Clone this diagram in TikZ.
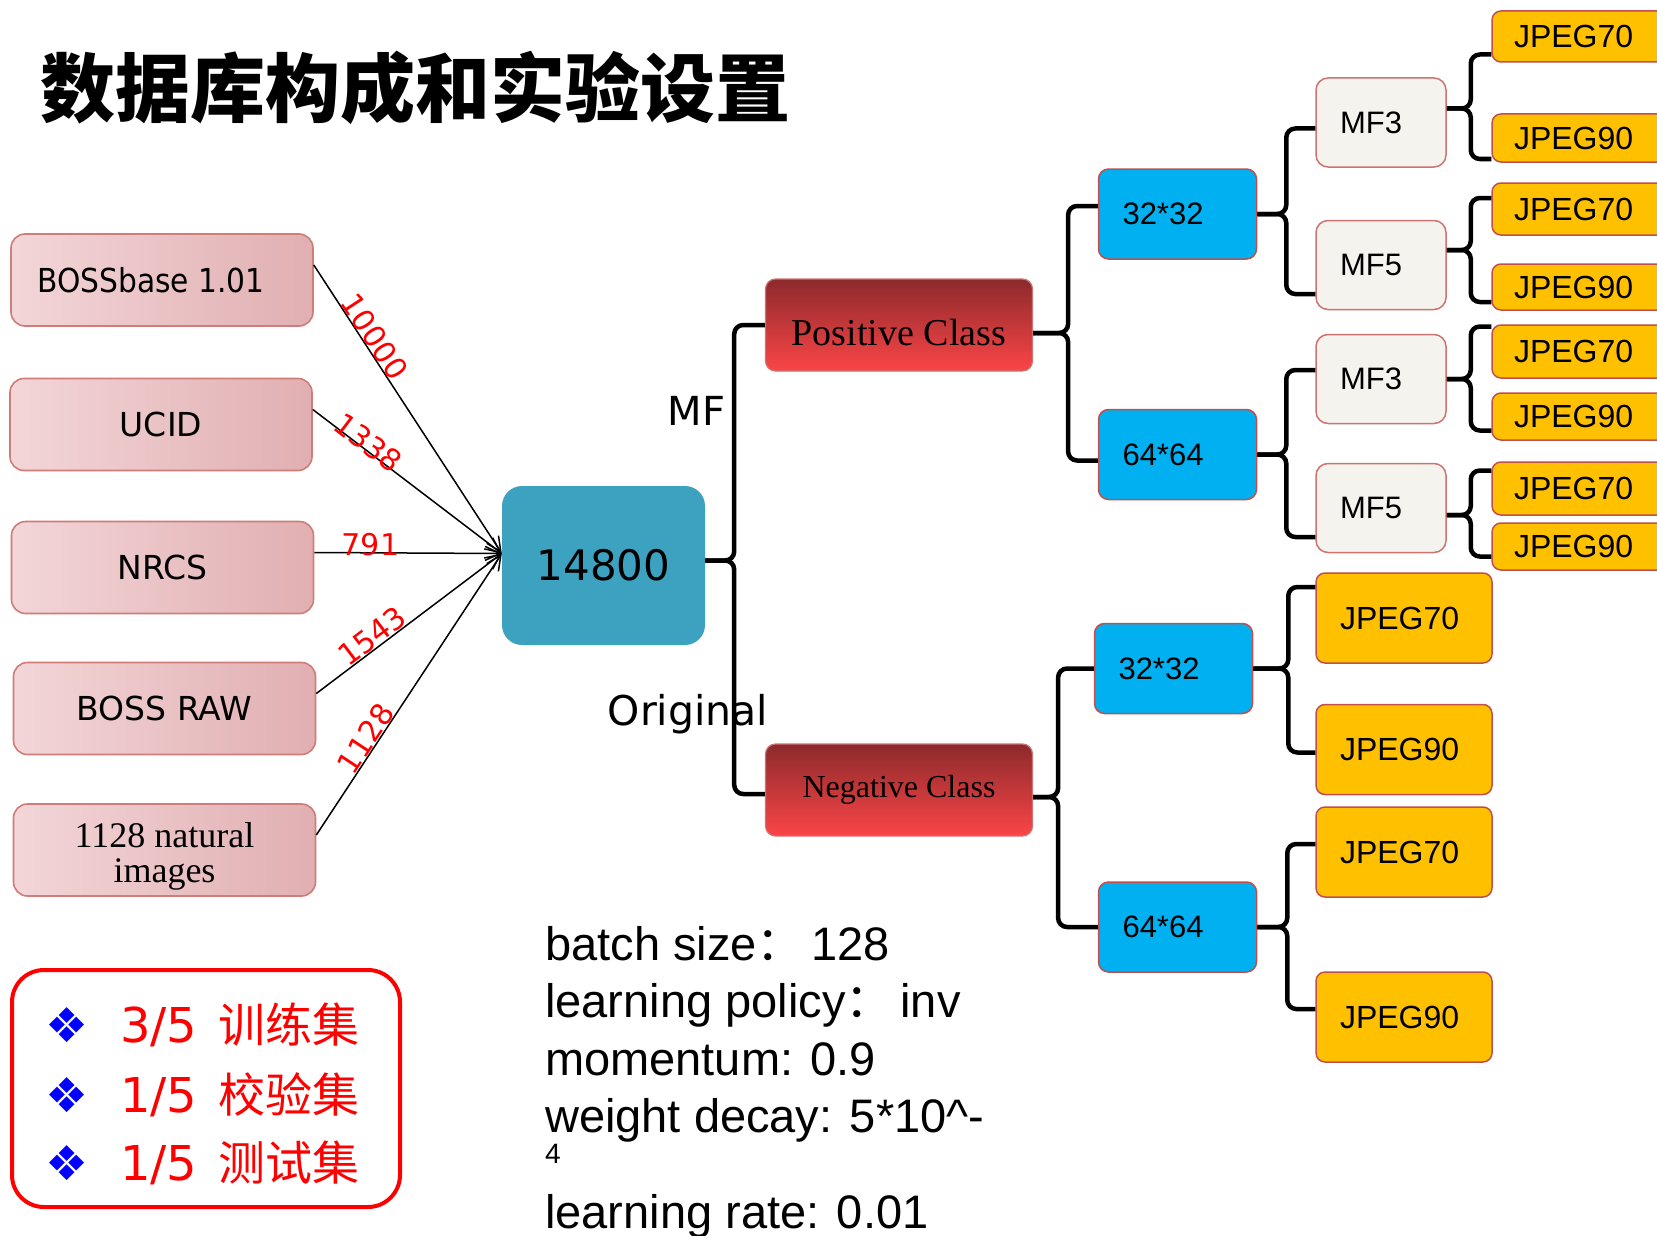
\documentclass[tikz,border=0pt]{standalone}
\usepackage{fontspec}
\setmainfont{Liberation Serif}
\setsansfont{DejaVu Sans}
\newfontfamily\arialf{Liberation Sans}
\newfontfamily\cjk{Noto Sans CJK SC}
\usetikzlibrary{arrows.meta,positioning,calc}
\definecolor{Rose}{HTML}{F3D6D8}
\definecolor{RoseDark}{HTML}{E1AFB2}
\definecolor{Edge}{HTML}{C0504D}
\definecolor{Teal}{HTML}{3CA2C0}
\definecolor{Sky}{HTML}{00B0F0}
\definecolor{Cream}{HTML}{F4F3EE}
\definecolor{Gold}{HTML}{FFC000}
\definecolor{Wine}{HTML}{8C2A2C}
\definecolor{Scarlet}{HTML}{FB4547}
\newcommand\pxfont[1]{\fontsize{#1}{#1}\selectfont}

\begin{document}
\begin{tikzpicture}[x=1pt,y=-1pt,
    src/.style={rounded corners=14pt,draw=Edge!75,line width=1.6pt,
      left color=Rose,right color=RoseDark,minimum width=302pt,
      minimum height=92pt,align=center,font=\sffamily\pxfont{33}},
    hubbox/.style={rounded corners=20pt,fill=Teal,minimum width=203pt,
      minimum height=159pt,font=\sffamily\pxfont{42}},
    cls/.style={rounded corners=10pt,draw=Edge!80,line width=1.2pt,
      top color=Wine,bottom color=Scarlet,minimum width=267pt,
      minimum height=92pt},
    res/.style={rounded corners=10pt,draw=Edge,line width=1.5pt,fill=Sky,
      minimum height=90pt,text width=110pt,inner xsep=24pt,align=left,
      font=\arialf\pxfont{31}},
    mf/.style={rounded corners=12pt,draw=Edge!80,line width=1.5pt,
      fill=Cream,minimum height=89pt,text width=82pt,inner xsep=24pt,
      align=left,font=\arialf\pxfont{31}},
    jpg/.style={rounded corners=9pt,draw=Edge,line width=1.5pt,fill=Gold,
      text width=131pt,inner xsep=22pt,align=left,font=\arialf\pxfont{32}},
    feed/.style={line width=1.5pt,-{Straight Barb[length=15pt,width=14pt]}},
    num/.style={sloped,inner sep=0pt,text=red,font=\sffamily\pxfont{30}},
    brace/.style={line width=4.5pt,rounded corners=9pt},
    param/.style={anchor=base west,inner sep=0pt,font=\arialf\pxfont{47}}
  ]
    \useasboundingbox (0,0) rectangle (1657,1236);
    \clip (0,0) rectangle (1657,1236);
    \fill[white] (0,0) rectangle (1657,1236);

    \node[anchor=base west,inner sep=0pt,font=\cjk\bfseries\pxfont{75}]
      (title) at (40,117) {数据库构成和实验设置};

    \node[src] (bb) at (162,280) {\scalebox{0.9}[1]{BOSSbase 1.01}\hspace{22pt}};
    \foreach \n/\x/\y/\lab in {ucid/161/424.5/UCID,nrcs/162.5/567.5/NRCS,
      raw/164.5/708.5/BOSS RAW}
      \node[src] (\n) at (\x,\y) {\lab};
    \node[src,font=\rmfamily\fontsize{36}{35}\selectfont] (nat)
      at (164.5,850) {\rule{0pt}{37pt}1128 natural\\images};

    \node[hubbox] (hub) at (603.5,565.5) {14800};
    \coordinate (hubin) at ([yshift=12pt]hub.west);
    \draw[feed] ([yshift=15pt]bb.east) -- node[num,pos=0.27,above=0pt] {10000} (hubin);
    \draw[feed] ([yshift=15pt]ucid.east) -- node[num,pos=0.27,above=-5pt] {1338} (hubin);
    \draw[feed] ([yshift=15pt]nrcs.east) -- node[num,pos=0.3,above=-4pt] {791} (hubin);
    \draw[feed] ([yshift=15pt]raw.east) -- node[num,pos=0.34,above=0pt] {1543} (hubin);
    \draw[feed] ([yshift=15pt]nat.east) -- node[num,pos=0.32,above=0pt] {1128} (hubin);

    \node[anchor=base,font=\sffamily\pxfont{40}] (mflab) at (696.5,425) {MF};
    \node[anchor=base,font=\sffamily\pxfont{41}] (origlab) at (688,725) {Original};

    \node[cls,font=\rmfamily\pxfont{38},text height=40pt,text depth=0pt]
      (posc) at (899,325) {Positive Class};
    \node[cls,font=\rmfamily\pxfont{32}] (negc) at (899,790) {Negative Class};

    \foreach \n/\x/\y/\lab in {r32a/1177.5/214/32*32,r64a/1177.5/454.5/64*64,
      r32b/1173.5/668.5/32*32,r64b/1177.5/927/64*64}
      \node[res] (\n) at (\x,\y) {\lab};
    \foreach \n/\y/\lab in {mf3a/122.5/MF3,mf5a/265/MF5,mf3b/379/MF3,mf5b/508/MF5}
      \node[mf] (\n) at (1381,\y) {\lab};
    \foreach \n/\y/\h/\lab in {j1/36.5/51/JPEG70,j2/138/48/JPEG90,
      j3/209/52/JPEG70,j4/287/46/JPEG90,j5/351.5/53/JPEG70,
      j6/416.5/47/JPEG90,j7/488.5/53/JPEG70,j8/546.5/47/JPEG90}
      \node[jpg,minimum height=\h pt] (\n) at (1579.5,\y) {\lab};
    \foreach \n/\y/\lab in {k1/618/JPEG70,k2/749.5/JPEG90,k3/852/JPEG70,
      k4/1017/JPEG90}
      \node[jpg,minimum height=90pt,text width=128pt,inner xsep=24pt]
        (\n) at (1404,\y) {\lab};

    \foreach \s/\sy/\d/\t/\ty in {hub/5/29/posc/0,hub/5/29/negc/-4,
      posc/-8/35/r32a/8,posc/-8/35/r64a/-6,
      r32a/0/29/mf3a/-6,r32a/0/29/mf5a/-29,
      r64a/0/29/mf3b/9,r64a/0/29/mf5b/-29,
      mf3a/14/24/j1/-18,mf3a/14/24/j2/-21,
      mf5a/15/24/j3/11,mf5a/15/24/j4/-15,
      mf3b/0/24/j5/25,mf3b/0/24/j6/-14,
      mf5b/-7/24/j7/18,mf5b/-7/24/j8/-10,
      negc/-7/25/r32b/0,negc/-7/25/r64b/0,
      r32b/0/35/k1/31,r32b/0/35/k2/-3,
      r64b/0/30/k3/8,r64b/0/30/k4/8}
      \draw[brace] ([yshift=\sy pt]\s.east) -- ++(\d,0) |- ([yshift=\ty pt]\t.west);

    \foreach \i/\y/\txt in {1/960/batch size{\cjk ：}\,128,
      2/1017/learning policy{\cjk ：}\,inv,3/1075/momentum: 0.9,
      4/1132/weight decay: 5*10\textasciicircum-}
      \node[param] (p\i) at (545,\y) {\txt};
    \node[param,font=\arialf\pxfont{28}] (pexp) at (545,1163) {4};
    \node[param] (p5) at (545,1228) {learning rate: 0.01};

    \node[draw=red,line width=4pt,rounded corners=32pt,minimum width=388pt,
      minimum height=237pt] (split) at (206,1088.5) {};
    \foreach \i/\y/\fr/\zh in {1/1042/{3/5}/训练集,2/1112/{1/5}/校验集,
      3/1180/{1/5}/测试集}{
      \node[text=blue,font=\sffamily\pxfont{48}] (bul\i) at (67,\y-17) {❖};
      \node[anchor=base west,inner sep=0pt,text=red] (sp\i) at (120,\y)
        {\sffamily\pxfont{48}\fr\hspace{21pt}\cjk\pxfont{47}\zh};
    }
  \end{tikzpicture}
\end{document}
